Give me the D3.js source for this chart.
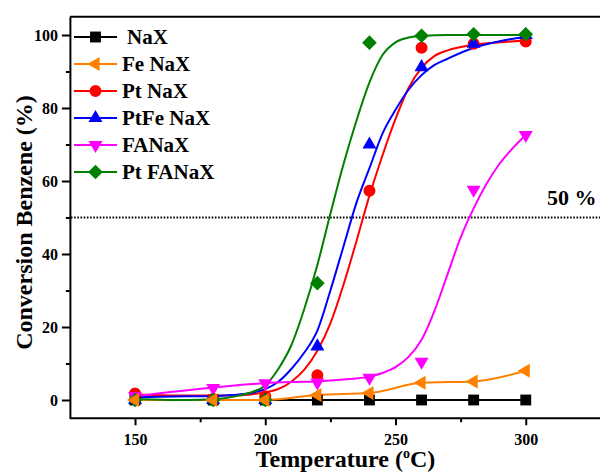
<!DOCTYPE html>
<html><head><meta charset="utf-8">
<script src="https://cdn.jsdelivr.net/npm/d3@7"></script>
<style>
body{margin:0;background:#fff}
text{font-family:"Liberation Serif","Times New Roman",serif;font-weight:bold;fill:#000}
</style>
</head><body><svg id="c" width="600" height="473"></svg>
<script>
// ---------- data ----------
const temps = [150,180,200,220,240,260,280,300];
const seriesNames = ["NaX","Fe NaX","Pt NaX","PtFe NaX","FANaX","Pt FANaX"];
const naX      = [0,0,0,0,0,0,0,0];
const feNaX    = [0,0,0,1.4,1.9,4.7,5.1,8.0];
const ptNaX    = [1.8,0.3,1.0,6.8,57.3,96.5,97.6,98.2];
const ptFeNaX  = [0,0,0,14.7,70.0,91.2,97.6,100];
const faNaX    = [1.0,3.3,4.6,4.8,6.1,10.5,57.6,72.6];
const ptFaNaX  = [0,0,0,32,97.9,99.8,100.2,100.2];

// fitted curves
const fitT_pt   = [150,160,170,180,190,195,200,205,210,215,220,225,230,235,240,245,250,255,260,265,270,280,290,300];
const fitV_pt   = [1.5,1.3,1.2,1.2,1.3,1.6,2.1,3,5,8.3,13.5,21,31.5,43.5,56,67,77,85.5,91,94.3,95.8,97.3,98,98.5];
const fitT_ptfe = [150,160,170,180,190,195,200,205,210,215,220,225,230,235,240,245,250,255,260,265,270,280,290,300];
const fitV_ptfe = [0.8,0.9,1,1.1,1.5,2,3,5,8.5,13,19,30,42,54,63.5,73,79.5,85,89,91.8,93.5,96.5,98.3,99.5];
const fitT_ptfa = [150,160,170,180,190,195,200,205,210,215,220,225,230,235,240,245,250,255,260,270,280,290,300];
const fitV_ptfa = [0.3,0.1,0,0.2,1.2,2.2,4,8.5,15,25,37,51,64.5,76.5,87,94.5,98,99.3,99.7,100,100,100,100];
const fitT_fa   = [150,180,200,210,220,230,240,245,250,255,260,265,270,275,280,285,290,295,300];
const fitV_fa   = [1.0,3.4,4.6,4.9,5.1,5.6,6.4,7.4,9,11.8,16.5,24.5,34.5,44.5,52.5,59.3,64.8,69,72.6];

const xTicks = [150,200,250,300];
const xMinor = [175,225,275];
const yTicks = [0,20,40,60,80,100];
const yMinor = [10,30,50,70,90];
const refLevel = 50;

// ---------- setup ----------
const svg = d3.select("#c");
const x = d3.scaleLinear().domain([125,330]).range([69.9,603.9]);
const y = d3.scaleLinear().domain([-5,105]).range([418.25,16.75]);

const styles = [
  {color:"#000000", sym:d3.symbolSquare, size:118, rot:0},
  {color:"#FF8000", sym:d3.symbolTriangle, size:85, rot:-90},
  {color:"#FF0000", sym:d3.symbolCircle, size:113, rot:0},
  {color:"#0000FF", sym:d3.symbolTriangle, size:85, rot:0},
  {color:"#FF00FF", sym:d3.symbolTriangle, size:85, rot:180},
  {color:"#008000", sym:d3.symbolSquare, size:108, rot:45}
];
const values = [naX,feNaX,ptNaX,ptFeNaX,faNaX,ptFaNaX];

// frame
svg.append("line").attr("x1",x(125)).attr("x2",600).attr("y1",y(105)).attr("y2",y(105))
  .attr("stroke","#000").attr("stroke-width",2);

// axes
const gy = svg.append("g").attr("transform",`translate(${x(125)},0)`);
gy.call(d3.axisLeft(y).tickValues(yTicks).tickSize(8).tickSizeOuter(0).tickPadding(4));
const gyM = svg.append("g").attr("transform",`translate(${x(125)},0)`);
gyM.call(d3.axisLeft(y).tickValues(yMinor).tickSize(4).tickSizeOuter(0).tickFormat(""));
gyM.select(".domain").remove();

const gx = svg.append("g").attr("transform",`translate(0,${y(-5)})`);
gx.call(d3.axisBottom(x).tickValues(xTicks).tickSize(7).tickSizeOuter(0).tickPadding(8));
const gxM = svg.append("g").attr("transform",`translate(0,${y(-5)})`);
gxM.call(d3.axisBottom(x).tickValues(xMinor).tickSize(4).tickSizeOuter(0).tickFormat(""));
gxM.select(".domain").remove();

[gy,gx,gyM,gxM].forEach(g=>{
  g.selectAll("path,line").attr("stroke","#000").attr("stroke-width",2);
  g.selectAll("text").style("font-size","16px").style("font-family",'"Liberation Serif","Times New Roman",serif').style("font-weight","bold").attr("fill","#000");
});
gx.select(".domain").attr("d",`M${x(125)},0H600`);

// reference line
svg.append("line").attr("x1",x(125)+1).attr("x2",600).attr("y1",y(refLevel)).attr("y2",y(refLevel))
  .attr("stroke","#000").attr("stroke-width",2).attr("stroke-dasharray","1.6,1.6");
svg.append("text").attr("x",547).attr("y",205).style("font-size","22px").text("50 %");

// lines
const lineLin = d3.line().x(d=>x(d[0])).y(d=>y(d[1]));
const lineSm = d3.line().x(d=>x(d[0])).y(d=>y(d[1])).curve(d3.curveMonotoneX);
const zip = (a,b)=>a.map((t,i)=>[t,b[i]]);
const curves = [
  {d:zip(temps,naX), gen:lineLin, c:0},
  {d:zip(temps,feNaX), gen:lineSm, c:1},
  {d:zip(fitT_pt,fitV_pt), gen:lineSm, c:2},
  {d:zip(fitT_ptfe,fitV_ptfe), gen:lineSm, c:3},
  {d:zip(fitT_fa,fitV_fa), gen:lineSm, c:4},
  {d:zip(fitT_ptfa,fitV_ptfa), gen:lineSm, c:5}
];
curves.forEach(cv=>{
  svg.append("path").attr("d",cv.gen(cv.d)).attr("fill","none")
    .attr("stroke",styles[cv.c].color).attr("stroke-width",2);
});

// markers
const order = [0,2,3,4,5,1];
order.forEach(si=>{
  const st = styles[si];
  const sym = d3.symbol().type(st.sym).size(st.size);
  svg.append("g").selectAll("path").data(zip(temps,values[si])).join("path")
    .attr("d",sym)
    .attr("transform",d=>`translate(${x(d[0])},${y(d[1])}) rotate(${st.rot})`)
    .attr("fill",st.color);
});

// legend
const lg = svg.append("g");
seriesNames.forEach((name,i)=>{
  const cy = 37 + i*27;
  const st = styles[i];
  lg.append("line").attr("x1",74).attr("x2",117).attr("y1",cy).attr("y2",cy)
    .attr("stroke",st.color).attr("stroke-width",2);
  lg.append("path").attr("d",d3.symbol().type(st.sym).size(st.size)())
    .attr("transform",`translate(95.5,${cy}) rotate(${st.rot})`).attr("fill",st.color);
  lg.append("text").attr("x", i===0 ? 127 : 122).attr("y",cy+7).style("font-size","21px").text(name);
});

// axis titles
const xt = svg.append("text").attr("x",345.5).attr("y",467).attr("text-anchor","middle").style("font-size","24px");
xt.append("tspan").text("Temperature (");
xt.append("tspan").attr("dy",-9).style("font-size","14px").text("o");
xt.append("tspan").attr("dy",9).text("C)");
svg.append("text").attr("transform","translate(32,222.5) rotate(-90)").attr("text-anchor","middle")
  .style("font-size","24px").text("Conversion Benzene (%)");
</script>
</body></html>
